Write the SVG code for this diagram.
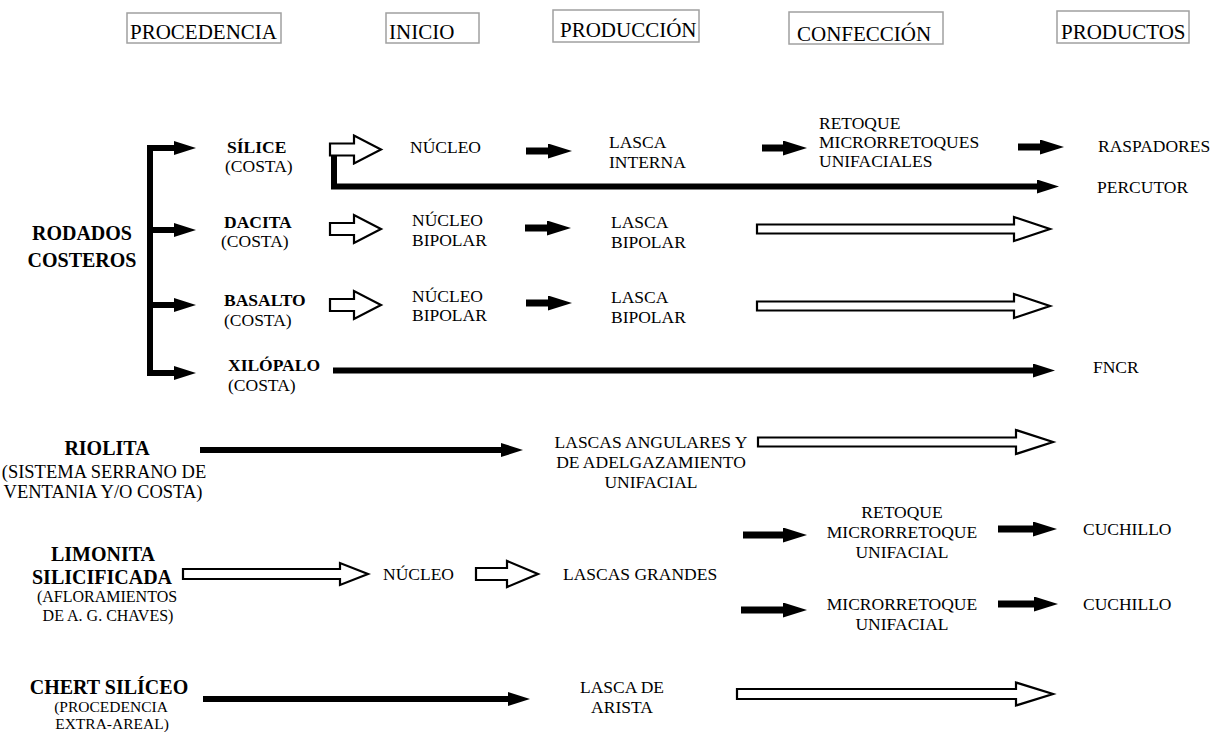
<svg xmlns="http://www.w3.org/2000/svg" width="1214" height="732" viewBox="0 0 1214 732" font-family="'Liberation Serif', 'Times New Roman', 'DejaVu Serif', serif">
<style>
text{font-family:'Liberation Serif','Times New Roman','DejaVu Serif',serif;font-size:17.5px;fill:#000}
.h{font-size:21px}
.b{font-weight:bold}
.big{font-weight:bold;font-size:20px}
.m{text-anchor:middle}
.box{fill:#fff;stroke:#a0a0a0;stroke-width:1.5}
.f{stroke:#000;stroke-width:7;fill:none}
.fl{stroke:#000;stroke-width:6;fill:none}
.ho{fill:#fff;stroke:#000;stroke-width:2.2;stroke-linejoin:miter}
</style>
<defs>
<marker id="ah" markerUnits="userSpaceOnUse" markerWidth="30" markerHeight="20" refX="1" refY="7.5" orient="auto" viewBox="0 0 30 20">
<path d="M0,0 L24,7.5 L0,15 z" fill="#000"/>
</marker>
<marker id="ahs" markerUnits="userSpaceOnUse" markerWidth="30" markerHeight="20" refX="1" refY="7" orient="auto" viewBox="0 0 30 20">
<path d="M0,0 L22,7 L0,14 z" fill="#000"/>
</marker>
</defs>
<rect width="1214" height="732" fill="#fff"/>

<g id="headers">
<g id="h-procedencia"><rect class="box" x="127" y="13" width="154" height="30"/><text class="h" x="130" y="39">PROCEDENCIA</text></g>
<g id="h-inicio"><rect class="box" x="386" y="13" width="93" height="30"/><text class="h" x="389" y="39">INICIO</text></g>
<g id="h-produccion"><rect class="box" x="553" y="10" width="146" height="32"/><text class="h" x="560" y="37">PRODUCCIÓN</text></g>
<g id="h-confeccion"><rect class="box" x="789" y="12" width="154" height="32"/><text class="h" x="797" y="41">CONFECCIÓN</text></g>
<g id="h-productos"><rect class="box" x="1057" y="11" width="132" height="32"/><text class="h" x="1061" y="39">PRODUCTOS</text></g>
</g>

<g id="connectors">
<line class="fl" x1="150" y1="145" x2="150" y2="376"/>
<line class="fl" x1="147" y1="148" x2="175" y2="148" marker-end="url(#ahs)"/>
<line class="fl" x1="147" y1="230" x2="175" y2="230" marker-end="url(#ahs)"/>
<line class="fl" x1="147" y1="305" x2="175" y2="305" marker-end="url(#ahs)"/>
<line class="fl" x1="147" y1="373" x2="175" y2="373" marker-end="url(#ahs)"/>
<polygon class="ho" points="330,143.5 354,143.5 354,135.5 381,149.5 354,163.5 354,155.5 330,155.5"/>
<path class="fl" d="M334,156 V186.5 H1038" stroke-linejoin="miter" marker-end="url(#ahs)"/>
<line class="f" x1="526" y1="151" x2="549" y2="151" marker-end="url(#ah)"/>
<line class="f" x1="762" y1="148" x2="784" y2="148" marker-end="url(#ah)"/>
<line class="f" x1="1018" y1="147" x2="1041" y2="147" marker-end="url(#ah)"/>
<polygon class="ho" points="330,223 354,223 354,215 381,229 354,243 354,235 330,235"/>
<line class="f" x1="525" y1="228" x2="548" y2="228" marker-end="url(#ah)"/>
<polygon class="ho" points="757,224.5 1014,224.5 1014,217 1050,229 1014,241 1014,233.5 757,233.5"/>
<polygon class="ho" points="330,299 354,299 354,291 381,305 354,319 354,311 330,311"/>
<line class="f" x1="526" y1="303" x2="549" y2="303" marker-end="url(#ah)"/>
<polygon class="ho" points="757,301.5 1014,301.5 1014,294 1050,306 1014,318 1014,310.5 757,310.5"/>
<line class="fl" x1="333" y1="370.5" x2="1034" y2="370.5" marker-end="url(#ahs)"/>
<line class="fl" x1="200" y1="450" x2="502" y2="450" marker-end="url(#ahs)"/>
<polygon class="ho" points="758,437.5 1016,437.5 1016,430 1053,442 1016,454 1016,446.5 758,446.5"/>
<polygon class="ho" points="183,569 340,569 340,563 368,574 340,585 340,579 183,579"/>
<polygon class="ho" points="476,568 507,568 507,561 538,574 507,587 507,580 476,580"/>
<line class="f" x1="743" y1="535" x2="784" y2="535" marker-end="url(#ah)"/>
<line class="f" x1="998" y1="529" x2="1034" y2="529" marker-end="url(#ah)"/>
<line class="f" x1="741" y1="610" x2="784" y2="610" marker-end="url(#ah)"/>
<line class="f" x1="998" y1="604" x2="1035" y2="604" marker-end="url(#ah)"/>
<line class="fl" x1="203" y1="699" x2="509" y2="699" marker-end="url(#ahs)"/>
<polygon class="ho" points="737,689 1016,689 1016,682.5 1053,694 1016,705.5 1016,699 737,699"/>
</g>

<g id="n-rodados"><text class="big m" x="82" y="240">RODADOS</text><text class="big m" x="82" y="267">COSTEROS</text></g>
<g id="n-silice"><text class="b" x="227" y="153">SÍLICE</text><text x="225" y="172">(COSTA)</text></g>
<g id="n-dacita"><text class="b" x="224" y="228">DACITA</text><text x="221" y="247">(COSTA)</text></g>
<g id="n-basalto"><text class="b" x="224" y="306">BASALTO</text><text x="224" y="326">(COSTA)</text></g>
<g id="n-xilopalo"><text class="b" x="228" y="371">XILÓPALO</text><text x="228" y="391">(COSTA)</text></g>

<g id="n-nucleo1"><text x="410" y="153">NÚCLEO</text></g>
<g id="n-lasca-interna"><text x="609" y="148">LASCA</text><text x="609" y="168">INTERNA</text></g>
<g id="n-retoque1"><text x="819" y="129">RETOQUE</text><text x="819" y="148">MICRORRETOQUES</text><text x="819" y="167">UNIFACIALES</text></g>
<g id="n-raspadores"><text x="1098" y="152">RASPADORES</text></g>
<g id="n-percutor"><text x="1097" y="193">PERCUTOR</text></g>

<g id="n-nucleo2"><text x="412" y="226">NÚCLEO</text><text x="412" y="246">BIPOLAR</text></g>
<g id="n-lasca2"><text x="611" y="228">LASCA</text><text x="611" y="248">BIPOLAR</text></g>
<g id="n-nucleo3"><text x="412" y="302">NÚCLEO</text><text x="412" y="321">BIPOLAR</text></g>
<g id="n-lasca3"><text x="611" y="303">LASCA</text><text x="611" y="323">BIPOLAR</text></g>
<g id="n-fncr"><text x="1093" y="373">FNCR</text></g>

<g id="n-riolita"><text class="big m" x="107" y="455">RIOLITA</text><text class="m" x="104" y="478" style="font-size:18.5px">(SISTEMA SERRANO DE</text><text class="m" x="103" y="498" style="font-size:18.5px">VENTANIA Y/O COSTA)</text></g>
<g id="n-lascas-angulares"><text class="m" x="651" y="448">LASCAS ANGULARES Y</text><text class="m" x="651" y="468">DE ADELGAZAMIENTO</text><text class="m" x="651" y="488">UNIFACIAL</text></g>

<g id="n-limonita"><text class="big m" x="103" y="561">LIMONITA</text><text class="big m" x="102" y="584">SILICIFICADA</text><text class="m" x="107" y="602" style="font-size:16px">(AFLORAMIENTOS</text><text class="m" x="108" y="621" style="font-size:16px">DE A. G. CHAVES)</text></g>
<g id="n-nucleo4"><text x="383" y="580">NÚCLEO</text></g>
<g id="n-lascas-grandes"><text x="563" y="580">LASCAS GRANDES</text></g>
<g id="n-retoque2"><text class="m" x="902" y="518">RETOQUE</text><text class="m" x="902" y="538">MICRORRETOQUE</text><text class="m" x="902" y="558">UNIFACIAL</text></g>
<g id="n-cuchillo1"><text x="1083" y="535">CUCHILLO</text></g>
<g id="n-micro2"><text class="m" x="902" y="610">MICRORRETOQUE</text><text class="m" x="902" y="630">UNIFACIAL</text></g>
<g id="n-cuchillo2"><text x="1083" y="610">CUCHILLO</text></g>

<g id="n-chert"><text class="big m" x="109" y="694">CHERT SILÍCEO</text><text class="m" x="111" y="712" style="font-size:15.5px">(PROCEDENCIA</text><text class="m" x="112" y="728.5" style="font-size:15.5px">EXTRA-AREAL)</text></g>
<g id="n-lasca-arista"><text class="m" x="622" y="693">LASCA DE</text><text class="m" x="622" y="713">ARISTA</text></g>
</svg>
